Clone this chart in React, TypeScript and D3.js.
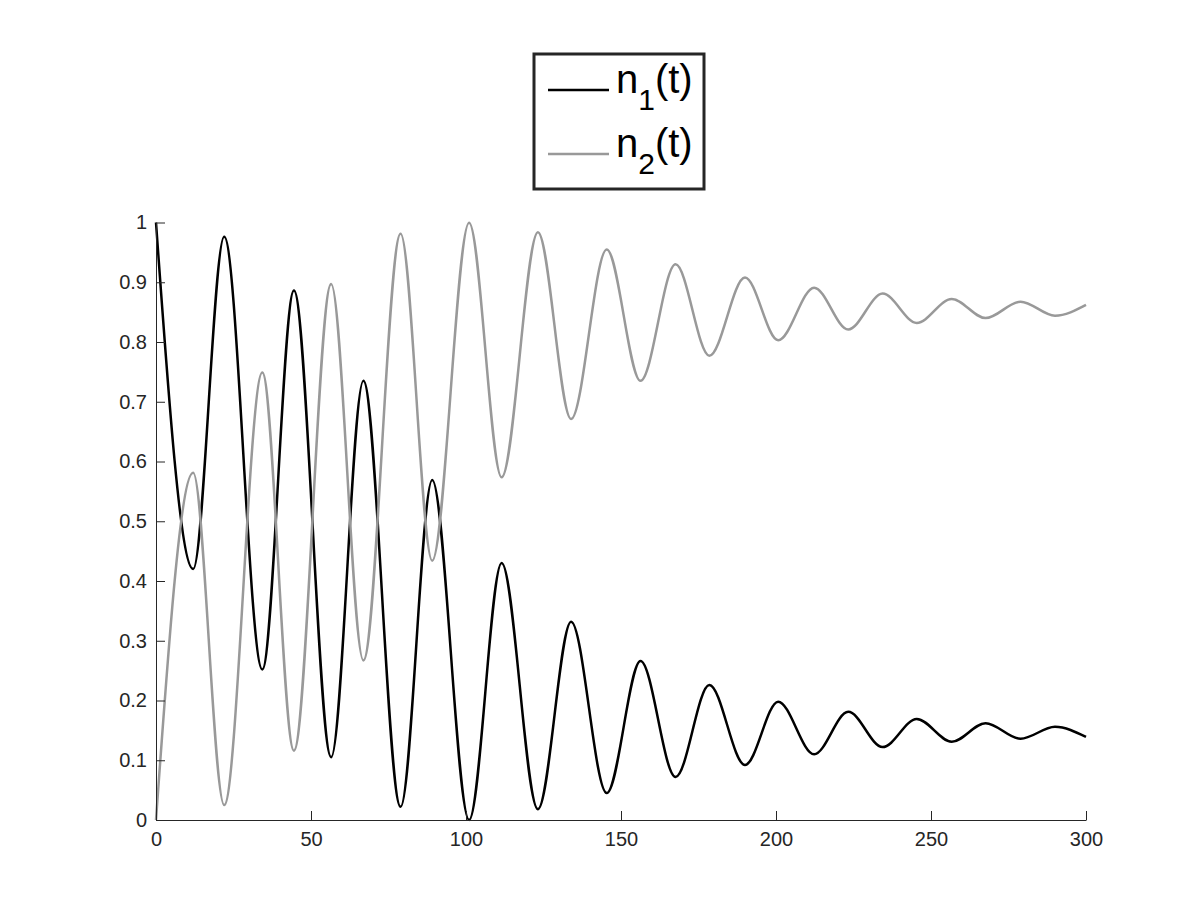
import React, { useRef, useEffect } from "react";
import * as d3 from "d3";

// extrema (time, population)
const times = [0, 12, 22, 34.3, 44.5, 56.5, 66.9, 78.9, 89.1, 101, 111.5, 123.2, 133.9, 145.4, 156.3, 167.6, 178.5, 190, 200.7, 212.3, 223.3, 234.4, 245.4, 256.7, 267.6, 278.9, 290, 300];
const n1Values = [1.0, 0.42, 0.976, 0.252, 0.886, 0.105, 0.735, 0.022, 0.569, 0.0, 0.43, 0.018, 0.332, 0.045, 0.266, 0.072, 0.226, 0.092, 0.198, 0.11, 0.181, 0.122, 0.169, 0.131, 0.162, 0.136, 0.156, 0.139];
const n2Values = [0.0, 0.581, 0.025, 0.749, 0.116, 0.897, 0.267, 0.981, 0.434, 0.9995, 0.5735, 0.9835, 0.671, 0.955, 0.735, 0.93, 0.777, 0.908, 0.803, 0.891, 0.821, 0.881, 0.832, 0.872, 0.84, 0.8675, 0.844, 0.862];

const xTicks = [0, 50, 100, 150, 200, 250, 300];
const yTicks = [0, 0.1, 0.2, 0.3, 0.4, 0.5, 0.6, 0.7, 0.8, 0.9, 1];

const series = [
  { name: "1", values: n1Values, color: "#000000" },
  { name: "2", values: n2Values, color: "#999999" },
];

export default function App() {
  const svgRef = useRef<SVGSVGElement>(null);

  useEffect(() => {
    const svg = d3.select(svgRef.current);
    svg.selectAll("*").remove();

    const font = "'Liberation Sans', Arial, Helvetica, sans-serif";
    const axisColor = "#262626";

    const x = d3.scaleLinear().domain([0, 300]).range([156, 1086]);
    const y = d3.scaleLinear().domain([0, 1]).range([820, 222.5]);

    const line = d3.line<number>()
      .x((d, i) => x(times[i]))
      .y(d => y(d))
      .curve(d3.curveMonotoneX);

    // curves
    series.forEach(s => {
      svg.append("path")
        .datum(s.values)
        .attr("fill", "none")
        .attr("stroke", s.color)
        .attr("stroke-width", 2.5)
        .attr("stroke-linejoin", "round")
        .attr("d", line);
    });

    // x axis (ticks point inward)
    const xAxis = svg.append("g")
      .attr("transform", `translate(0,${y(0)})`)
      .call(d3.axisBottom(x).tickValues(xTicks).tickSize(-9).tickSizeOuter(0).tickPadding(12).tickFormat(d3.format("d")));
    xAxis.select(".domain").attr("stroke", axisColor);
    xAxis.selectAll("line").attr("stroke", axisColor);
    xAxis.selectAll("text")
      .attr("fill", axisColor)
      .style("font-family", font)
      .style("font-size", "20px");

    // y axis
    const yAxis = svg.append("g")
      .attr("transform", `translate(${x(0)},0)`)
      .call(d3.axisLeft(y).tickValues(yTicks).tickSize(-9).tickSizeOuter(0).tickPadding(9).tickFormat(d => d3.format("")(+d)));
    yAxis.select(".domain").attr("stroke", axisColor);
    yAxis.selectAll("line").attr("stroke", axisColor);
    yAxis.selectAll("text")
      .attr("fill", axisColor)
      .style("font-family", font)
      .style("font-size", "20px");

    // legend
    const legend = svg.append("g");
    legend.append("rect")
      .attr("x", 534)
      .attr("y", 54)
      .attr("width", 170)
      .attr("height", 135)
      .attr("fill", "white")
      .attr("stroke", axisColor)
      .attr("stroke-width", 3);

    series.forEach((s, i) => {
      const ly = 90 + i * 64;
      legend.append("line")
        .attr("x1", 548)
        .attr("x2", 609)
        .attr("y1", ly)
        .attr("y2", ly)
        .attr("stroke", s.color)
        .attr("stroke-width", 2.5);

      const t = legend.append("text")
        .attr("x", 616)
        .attr("y", ly + 3)
        .attr("fill", "black")
        .style("font-family", font)
        .style("font-size", "40px");
      t.append("tspan").text("n");
      t.append("tspan")
        .attr("dy", 17)
        .style("font-size", "30px")
        .text(s.name);
      t.append("tspan")
        .attr("dy", -17)
        .text("(t)");
    });
  }, []);

  return (
    <svg
      ref={svgRef}
      width={1200}
      height={900}
      style={{ position: "absolute", left: 0, top: 0, background: "white" }}
    ></svg>
  );
}
